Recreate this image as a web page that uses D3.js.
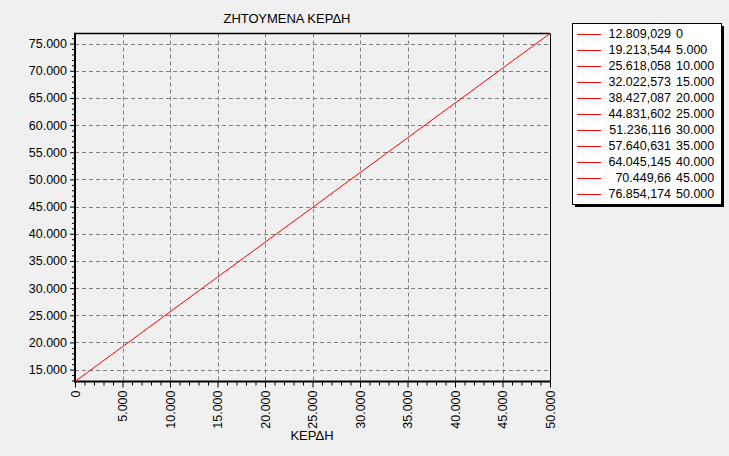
<!DOCTYPE html>
<html>
<head>
<meta charset="utf-8">
<script src="https://cdn.jsdelivr.net/npm/d3@7"></script>
<style>
body { margin: 0; background: #f0f0f0; }
text { font-family: "Liberation Sans", Arial, sans-serif; }
</style>
</head>
<body>
<div id="chart"></div>
<script>
// data
var profits = [0, 5000, 10000, 15000, 20000, 25000, 30000, 35000, 40000, 45000, 50000];
var demanded = [12809.029, 19213.544, 25618.058, 32022.573, 38427.087, 44831.602,
    51236.116, 57640.631, 64045.145, 70449.66, 76854.174];
var yTicks = [15000, 20000, 25000, 30000, 35000, 40000, 45000, 50000, 55000, 60000, 65000, 70000, 75000];
var xTicks = [0, 5000, 10000, 15000, 20000, 25000, 30000, 35000, 40000, 45000, 50000];
var title = "ΖΗΤΟΥΜΕΝΑ ΚΕΡΔΗ";
var xTitle = "ΚΕΡΔΗ";

function main() {
    var gr = d3.formatLocale({ decimal: ",", thousands: ".", grouping: [3], currency: ["", " €"] });
    var tickFmt = gr.format(",.0f");
    var legFmt = gr.format(",.3~f");

    var W = 729, H = 456;
    var pl = 75, pr = 550, pt = 33.5, pb = 381.5;

    var svg = d3.select("#chart")
        .append("svg")
        .attr("width", W)
        .attr("height", H);

    svg.append("rect").attr("width", W).attr("height", H).attr("fill", "#f0f0f0");

    var x = d3.scaleLinear().domain([0, 50000]).range([pl, pr]);
    var y = d3.scaleLinear().domain([d3.min(demanded), d3.max(demanded)]).range([pb, pt]);

    // dashed grid
    svg.append("g")
        .selectAll("line")
        .data(yTicks)
        .enter()
        .append("line")
        .attr("x1", pl).attr("x2", pr)
        .attr("y1", function (d) { return Math.round(y(d)) + 0.5; })
        .attr("y2", function (d) { return Math.round(y(d)) + 0.5; })
        .attr("stroke", "#808080")
        .attr("stroke-dasharray", "4,3");
    svg.append("g")
        .selectAll("line")
        .data(xTicks.slice(1, -1))
        .enter()
        .append("line")
        .attr("x1", function (d) { return Math.round(x(d)) + 0.5; })
        .attr("x2", function (d) { return Math.round(x(d)) + 0.5; })
        .attr("y1", pt).attr("y2", pb)
        .attr("stroke", "#808080")
        .attr("stroke-dasharray", "4,3");

    // y axis with minor ticks
    var yMinor = d3.range(13000, 77000, 1000).filter(function (d) { return d % 5000 != 0; });
    svg.append("g")
        .attr("transform", "translate(" + pl + ",0)")
        .call(d3.axisLeft(y).tickValues(yMinor).tickSize(3).tickFormat(""))
        .call(function (g) { g.select(".domain").remove(); });
    var yAx = svg.append("g")
        .attr("transform", "translate(" + pl + ",0)")
        .call(d3.axisLeft(y).tickValues(yTicks).tickSize(5).tickPadding(3).tickFormat(tickFmt));
    yAx.select(".domain").remove();
    yAx.selectAll("text").style("font-size", "12.5px").attr("fill", "#000");

    // x axis with minor ticks
    var xMinor = d3.range(1000, 50000, 1000).filter(function (d) { return d % 5000 != 0; });
    svg.append("g")
        .attr("transform", "translate(0," + pb + ")")
        .call(d3.axisBottom(x).tickValues(xMinor).tickSize(4).tickFormat(""))
        .call(function (g) { g.select(".domain").remove(); });
    var xAx = svg.append("g")
        .attr("transform", "translate(0," + pb + ")")
        .call(d3.axisBottom(x).tickValues(xTicks).tickSize(6).tickFormat(tickFmt));
    xAx.select(".domain").remove();
    xAx.selectAll("text")
        .style("font-size", "12.5px")
        .attr("fill", "#000")
        .attr("transform", "translate(0,9)rotate(-90)")
        .attr("x", 0).attr("y", 0).attr("dy", "0.35em")
        .style("text-anchor", "end");

    // frame: thick left / bottom, thin top / right
    svg.append("line").attr("x1", pl).attr("x2", pr).attr("y1", pt).attr("y2", pt)
        .attr("stroke", "#000").attr("stroke-width", 1.5);
    svg.append("line").attr("x1", pr + 0.5).attr("x2", pr + 0.5).attr("y1", pt).attr("y2", pb)
        .attr("stroke", "#000").attr("stroke-width", 1);
    svg.append("line").attr("x1", pl).attr("x2", pl).attr("y1", pt - 0.75).attr("y2", pb + 1)
        .attr("stroke", "#000").attr("stroke-width", 2);
    svg.append("line").attr("x1", pl - 1).attr("x2", pr + 1).attr("y1", pb).attr("y2", pb)
        .attr("stroke", "#000").attr("stroke-width", 2);

    // the line
    var pts = profits.map(function (d, i) { return [d, demanded[i]]; });
    svg.append("path")
        .datum(pts)
        .attr("fill", "none")
        .attr("stroke", "#ff0000")
        .attr("stroke-width", 1)
        .attr("d", d3.line().x(function (d) { return x(d[0]); }).y(function (d) { return y(d[1]); }));

    // titles
    svg.append("text")
        .attr("x", 287).attr("y", 23)
        .attr("text-anchor", "middle")
        .style("font-size", "13px")
        .text(title);
    svg.append("text")
        .attr("x", 312).attr("y", 440)
        .attr("text-anchor", "middle")
        .style("font-size", "13px")
        .text(xTitle);

    // legend box with shadow
    var lx = 572, ly = 23, lw = 149, lh = 181;
    svg.append("rect").attr("x", lx + 3).attr("y", ly + 3).attr("width", lw).attr("height", lh).attr("fill", "#000");
    svg.append("rect").attr("x", lx + 0.5).attr("y", ly + 0.5).attr("width", lw).attr("height", lh)
        .attr("fill", "#fff").attr("stroke", "#000");

    var row = svg.append("g")
        .selectAll("g")
        .data(pts)
        .enter()
        .append("g")
        .attr("transform", function (d, i) { return "translate(0," + (34 + i * 16) + ")"; });
    row.append("line")
        .attr("x1", 577).attr("x2", 601)
        .attr("y1", 0.5).attr("y2", 0.5)
        .attr("stroke", "#ff0000");
    row.append("text")
        .attr("x", 671).attr("dy", "0.3em")
        .attr("text-anchor", "end")
        .style("font-size", "12.5px")
        .text(function (d) { return legFmt(d[1]); });
    row.append("text")
        .attr("x", 676).attr("dy", "0.3em")
        .style("font-size", "12.5px")
        .text(function (d) { return tickFmt(d[0]); });
}

main();
</script>
</body>
</html>
